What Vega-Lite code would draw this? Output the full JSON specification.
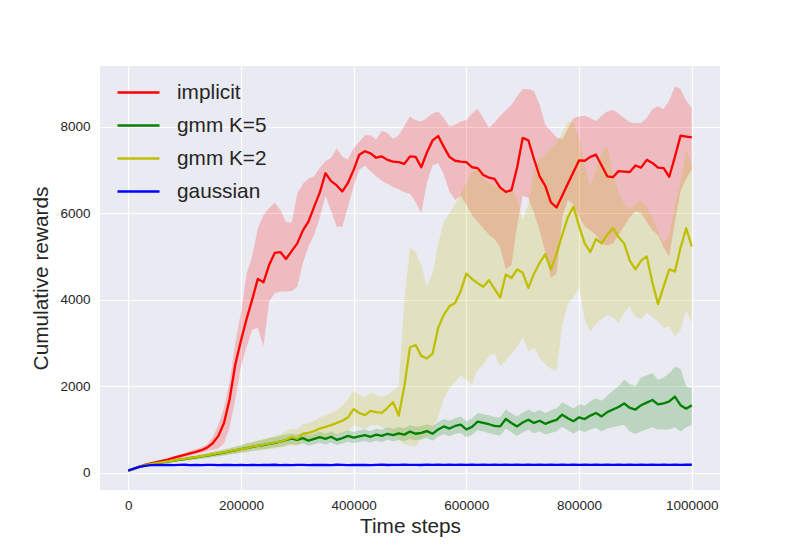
{
  "$schema": "https://vega.github.io/schema/vega-lite/v6.json",
  "width": 620,
  "height": 424,
  "autosize": {"type": "none"},
  "padding": {"left": 100, "top": 66, "right": 80, "bottom": 60},
  "background": "white",
  "config": {
    "view": {"fill": "#EAEAF2", "stroke": null},
    "axis": {
      "grid": true,
      "gridColor": "white",
      "gridWidth": 1.2,
      "domain": false,
      "ticks": false,
      "labelFont": "Liberation Sans",
      "labelFontSize": 13.5,
      "labelColor": "#262626",
      "titleFont": "Liberation Sans",
      "titleFontSize": 20.8,
      "titleFontWeight": "normal",
      "titleColor": "#262626"
    },
    "legend": {
      "orient": "none",
      "legendX": 16,
      "legendY": 4,
      "title": null,
      "symbolType": "stroke",
      "symbolSize": 1764,
      "symbolStrokeWidth": 2.5,
      "symbolOpacity": 1,
      "labelFont": "Liberation Sans",
      "labelFontSize": 20.8,
      "labelColor": "#262626",
      "labelOffset": 16
    }
  },
  "datasets": {
    "runs": [
      {"series": "implicit", "t": 0, "mean": 50, "lo": 40, "hi": 60},
      {"series": "implicit", "t": 10000, "mean": 90, "lo": 80, "hi": 100},
      {"series": "implicit", "t": 20000, "mean": 140, "lo": 130, "hi": 150},
      {"series": "implicit", "t": 30000, "mean": 180, "lo": 165, "hi": 195},
      {"series": "implicit", "t": 40000, "mean": 215, "lo": 200, "hi": 230},
      {"series": "implicit", "t": 50000, "mean": 245, "lo": 225, "hi": 265},
      {"series": "implicit", "t": 60000, "mean": 275, "lo": 250, "hi": 300},
      {"series": "implicit", "t": 70000, "mean": 305, "lo": 275, "hi": 335},
      {"series": "implicit", "t": 80000, "mean": 340, "lo": 305, "hi": 375},
      {"series": "implicit", "t": 90000, "mean": 375, "lo": 335, "hi": 415},
      {"series": "implicit", "t": 100000, "mean": 410, "lo": 365, "hi": 455},
      {"series": "implicit", "t": 110000, "mean": 445, "lo": 395, "hi": 500},
      {"series": "implicit", "t": 120000, "mean": 480, "lo": 425, "hi": 545},
      {"series": "implicit", "t": 130000, "mean": 520, "lo": 460, "hi": 590},
      {"series": "implicit", "t": 140000, "mean": 580, "lo": 500, "hi": 660},
      {"series": "implicit", "t": 150000, "mean": 680, "lo": 530, "hi": 820},
      {"series": "implicit", "t": 160000, "mean": 850, "lo": 560, "hi": 1100},
      {"series": "implicit", "t": 170000, "mean": 1150, "lo": 680, "hi": 1500},
      {"series": "implicit", "t": 180000, "mean": 1700, "lo": 1050, "hi": 2100},
      {"series": "implicit", "t": 190000, "mean": 2500, "lo": 1700, "hi": 3000},
      {"series": "implicit", "t": 200000, "mean": 3050, "lo": 2450, "hi": 3700},
      {"series": "implicit", "t": 210000, "mean": 3550, "lo": 2900, "hi": 4600},
      {"series": "implicit", "t": 220000, "mean": 4000, "lo": 3300, "hi": 5000},
      {"series": "implicit", "t": 230000, "mean": 4480, "lo": 3350, "hi": 5650},
      {"series": "implicit", "t": 240000, "mean": 4400, "lo": 2920, "hi": 5950},
      {"series": "implicit", "t": 250000, "mean": 4800, "lo": 3950, "hi": 6120},
      {"series": "implicit", "t": 260000, "mean": 5080, "lo": 4150, "hi": 6240},
      {"series": "implicit", "t": 270000, "mean": 5100, "lo": 4190, "hi": 6080},
      {"series": "implicit", "t": 280000, "mean": 4940, "lo": 4190, "hi": 5800},
      {"series": "implicit", "t": 290000, "mean": 5120, "lo": 4200, "hi": 5780},
      {"series": "implicit", "t": 300000, "mean": 5300, "lo": 4300, "hi": 6450},
      {"series": "implicit", "t": 310000, "mean": 5600, "lo": 4850, "hi": 6680},
      {"series": "implicit", "t": 320000, "mean": 5810, "lo": 5230, "hi": 6800},
      {"series": "implicit", "t": 330000, "mean": 6150, "lo": 5500, "hi": 6850},
      {"series": "implicit", "t": 340000, "mean": 6480, "lo": 5900, "hi": 7050},
      {"series": "implicit", "t": 350000, "mean": 6920, "lo": 6400, "hi": 7200},
      {"series": "implicit", "t": 360000, "mean": 6740, "lo": 6050, "hi": 7280},
      {"series": "implicit", "t": 370000, "mean": 6640, "lo": 5680, "hi": 7500},
      {"series": "implicit", "t": 380000, "mean": 6500, "lo": 5690, "hi": 7300},
      {"series": "implicit", "t": 390000, "mean": 6700, "lo": 6150, "hi": 7240},
      {"series": "implicit", "t": 400000, "mean": 7000, "lo": 6620, "hi": 7500},
      {"series": "implicit", "t": 410000, "mean": 7350, "lo": 7000, "hi": 7650},
      {"series": "implicit", "t": 420000, "mean": 7430, "lo": 7100, "hi": 7800},
      {"series": "implicit", "t": 430000, "mean": 7380, "lo": 6970, "hi": 7800},
      {"series": "implicit", "t": 440000, "mean": 7280, "lo": 6850, "hi": 7700},
      {"series": "implicit", "t": 450000, "mean": 7310, "lo": 6750, "hi": 7900},
      {"series": "implicit", "t": 460000, "mean": 7230, "lo": 6680, "hi": 7850},
      {"series": "implicit", "t": 470000, "mean": 7190, "lo": 6600, "hi": 7720},
      {"series": "implicit", "t": 480000, "mean": 7180, "lo": 6550, "hi": 7800},
      {"series": "implicit", "t": 490000, "mean": 7140, "lo": 6480, "hi": 8020},
      {"series": "implicit", "t": 500000, "mean": 7310, "lo": 6450, "hi": 8230},
      {"series": "implicit", "t": 510000, "mean": 7300, "lo": 6250, "hi": 8150},
      {"series": "implicit", "t": 520000, "mean": 7060, "lo": 6000, "hi": 8120},
      {"series": "implicit", "t": 530000, "mean": 7400, "lo": 6700, "hi": 8200},
      {"series": "implicit", "t": 540000, "mean": 7680, "lo": 7100, "hi": 8300},
      {"series": "implicit", "t": 550000, "mean": 7780, "lo": 7150, "hi": 8350},
      {"series": "implicit", "t": 560000, "mean": 7530, "lo": 6900, "hi": 8200},
      {"series": "implicit", "t": 570000, "mean": 7300, "lo": 6500, "hi": 8000},
      {"series": "implicit", "t": 580000, "mean": 7210, "lo": 6300, "hi": 8050},
      {"series": "implicit", "t": 590000, "mean": 7190, "lo": 6400, "hi": 8120},
      {"series": "implicit", "t": 600000, "mean": 7180, "lo": 6200, "hi": 8150},
      {"series": "implicit", "t": 610000, "mean": 7060, "lo": 5950, "hi": 8300},
      {"series": "implicit", "t": 620000, "mean": 7040, "lo": 5800, "hi": 8410},
      {"series": "implicit", "t": 630000, "mean": 6880, "lo": 5650, "hi": 8200},
      {"series": "implicit", "t": 640000, "mean": 6820, "lo": 5500, "hi": 7970},
      {"series": "implicit", "t": 650000, "mean": 6790, "lo": 5400, "hi": 8100},
      {"series": "implicit", "t": 660000, "mean": 6590, "lo": 5200, "hi": 8250},
      {"series": "implicit", "t": 670000, "mean": 6490, "lo": 4700, "hi": 8380},
      {"series": "implicit", "t": 680000, "mean": 6530, "lo": 4800, "hi": 8500},
      {"series": "implicit", "t": 690000, "mean": 7050, "lo": 5700, "hi": 8700},
      {"series": "implicit", "t": 700000, "mean": 7740, "lo": 6400, "hi": 8870},
      {"series": "implicit", "t": 710000, "mean": 7680, "lo": 6350, "hi": 8870},
      {"series": "implicit", "t": 720000, "mean": 7250, "lo": 6000, "hi": 8820},
      {"series": "implicit", "t": 730000, "mean": 6850, "lo": 5600, "hi": 8500},
      {"series": "implicit", "t": 740000, "mean": 6630, "lo": 5100, "hi": 8050},
      {"series": "implicit", "t": 750000, "mean": 6250, "lo": 4500, "hi": 7900},
      {"series": "implicit", "t": 760000, "mean": 6130, "lo": 4600, "hi": 7750},
      {"series": "implicit", "t": 770000, "mean": 6400, "lo": 5900, "hi": 7700},
      {"series": "implicit", "t": 780000, "mean": 6680, "lo": 6300, "hi": 7950},
      {"series": "implicit", "t": 790000, "mean": 6950, "lo": 6200, "hi": 8200},
      {"series": "implicit", "t": 800000, "mean": 7220, "lo": 5900, "hi": 8230},
      {"series": "implicit", "t": 810000, "mean": 7210, "lo": 5700, "hi": 8250},
      {"series": "implicit", "t": 820000, "mean": 7300, "lo": 5600, "hi": 8200},
      {"series": "implicit", "t": 830000, "mean": 7350, "lo": 5500, "hi": 8130},
      {"series": "implicit", "t": 840000, "mean": 7100, "lo": 5300, "hi": 8250},
      {"series": "implicit", "t": 850000, "mean": 6850, "lo": 5250, "hi": 8350},
      {"series": "implicit", "t": 860000, "mean": 6830, "lo": 5300, "hi": 8390},
      {"series": "implicit", "t": 870000, "mean": 6970, "lo": 5500, "hi": 8300},
      {"series": "implicit", "t": 880000, "mean": 6960, "lo": 5700, "hi": 8200},
      {"series": "implicit", "t": 890000, "mean": 6950, "lo": 5900, "hi": 8100},
      {"series": "implicit", "t": 900000, "mean": 7100, "lo": 6050, "hi": 8080},
      {"series": "implicit", "t": 910000, "mean": 7050, "lo": 6000, "hi": 8080},
      {"series": "implicit", "t": 920000, "mean": 7230, "lo": 5800, "hi": 8200},
      {"series": "implicit", "t": 930000, "mean": 7160, "lo": 5600, "hi": 8400},
      {"series": "implicit", "t": 940000, "mean": 7050, "lo": 5500, "hi": 8470},
      {"series": "implicit", "t": 950000, "mean": 7040, "lo": 5200, "hi": 8400},
      {"series": "implicit", "t": 960000, "mean": 6840, "lo": 5000, "hi": 8600},
      {"series": "implicit", "t": 970000, "mean": 7300, "lo": 5800, "hi": 8930},
      {"series": "implicit", "t": 980000, "mean": 7790, "lo": 6500, "hi": 8860},
      {"series": "implicit", "t": 990000, "mean": 7770, "lo": 6800, "hi": 8600},
      {"series": "implicit", "t": 1000000, "mean": 7750, "lo": 7000, "hi": 8430},

      {"series": "gmm K=5", "t": 0, "mean": 50, "lo": 45, "hi": 55},
      {"series": "gmm K=5", "t": 10000, "mean": 90, "lo": 80, "hi": 100},
      {"series": "gmm K=5", "t": 20000, "mean": 135, "lo": 120, "hi": 150},
      {"series": "gmm K=5", "t": 30000, "mean": 170, "lo": 150, "hi": 190},
      {"series": "gmm K=5", "t": 40000, "mean": 200, "lo": 180, "hi": 220},
      {"series": "gmm K=5", "t": 50000, "mean": 220, "lo": 195, "hi": 245},
      {"series": "gmm K=5", "t": 60000, "mean": 240, "lo": 212, "hi": 268},
      {"series": "gmm K=5", "t": 70000, "mean": 258, "lo": 228, "hi": 290},
      {"series": "gmm K=5", "t": 80000, "mean": 275, "lo": 240, "hi": 310},
      {"series": "gmm K=5", "t": 90000, "mean": 295, "lo": 258, "hi": 335},
      {"series": "gmm K=5", "t": 100000, "mean": 315, "lo": 275, "hi": 355},
      {"series": "gmm K=5", "t": 110000, "mean": 335, "lo": 290, "hi": 380},
      {"series": "gmm K=5", "t": 120000, "mean": 355, "lo": 305, "hi": 400},
      {"series": "gmm K=5", "t": 130000, "mean": 375, "lo": 325, "hi": 425},
      {"series": "gmm K=5", "t": 140000, "mean": 395, "lo": 340, "hi": 450},
      {"series": "gmm K=5", "t": 150000, "mean": 420, "lo": 360, "hi": 480},
      {"series": "gmm K=5", "t": 160000, "mean": 440, "lo": 375, "hi": 500},
      {"series": "gmm K=5", "t": 170000, "mean": 465, "lo": 400, "hi": 530},
      {"series": "gmm K=5", "t": 180000, "mean": 490, "lo": 420, "hi": 560},
      {"series": "gmm K=5", "t": 190000, "mean": 515, "lo": 440, "hi": 600},
      {"series": "gmm K=5", "t": 200000, "mean": 545, "lo": 460, "hi": 620},
      {"series": "gmm K=5", "t": 210000, "mean": 570, "lo": 480, "hi": 680},
      {"series": "gmm K=5", "t": 220000, "mean": 595, "lo": 510, "hi": 700},
      {"series": "gmm K=5", "t": 230000, "mean": 620, "lo": 530, "hi": 740},
      {"series": "gmm K=5", "t": 240000, "mean": 640, "lo": 540, "hi": 760},
      {"series": "gmm K=5", "t": 250000, "mean": 665, "lo": 560, "hi": 800},
      {"series": "gmm K=5", "t": 260000, "mean": 690, "lo": 590, "hi": 820},
      {"series": "gmm K=5", "t": 270000, "mean": 720, "lo": 600, "hi": 860},
      {"series": "gmm K=5", "t": 280000, "mean": 750, "lo": 640, "hi": 880},
      {"series": "gmm K=5", "t": 290000, "mean": 790, "lo": 660, "hi": 900},
      {"series": "gmm K=5", "t": 300000, "mean": 760, "lo": 640, "hi": 880},
      {"series": "gmm K=5", "t": 310000, "mean": 800, "lo": 680, "hi": 920},
      {"series": "gmm K=5", "t": 320000, "mean": 740, "lo": 620, "hi": 870},
      {"series": "gmm K=5", "t": 330000, "mean": 780, "lo": 660, "hi": 900},
      {"series": "gmm K=5", "t": 340000, "mean": 820, "lo": 690, "hi": 950},
      {"series": "gmm K=5", "t": 350000, "mean": 780, "lo": 650, "hi": 900},
      {"series": "gmm K=5", "t": 360000, "mean": 830, "lo": 700, "hi": 960},
      {"series": "gmm K=5", "t": 370000, "mean": 760, "lo": 640, "hi": 890},
      {"series": "gmm K=5", "t": 380000, "mean": 800, "lo": 670, "hi": 930},
      {"series": "gmm K=5", "t": 390000, "mean": 850, "lo": 720, "hi": 980},
      {"series": "gmm K=5", "t": 400000, "mean": 810, "lo": 680, "hi": 940},
      {"series": "gmm K=5", "t": 410000, "mean": 840, "lo": 710, "hi": 980},
      {"series": "gmm K=5", "t": 420000, "mean": 870, "lo": 730, "hi": 1000},
      {"series": "gmm K=5", "t": 430000, "mean": 830, "lo": 700, "hi": 960},
      {"series": "gmm K=5", "t": 440000, "mean": 880, "lo": 740, "hi": 1020},
      {"series": "gmm K=5", "t": 450000, "mean": 850, "lo": 710, "hi": 990},
      {"series": "gmm K=5", "t": 460000, "mean": 900, "lo": 760, "hi": 1050},
      {"series": "gmm K=5", "t": 470000, "mean": 870, "lo": 720, "hi": 1010},
      {"series": "gmm K=5", "t": 480000, "mean": 910, "lo": 760, "hi": 1060},
      {"series": "gmm K=5", "t": 490000, "mean": 880, "lo": 730, "hi": 1030},
      {"series": "gmm K=5", "t": 500000, "mean": 950, "lo": 780, "hi": 1100},
      {"series": "gmm K=5", "t": 510000, "mean": 900, "lo": 750, "hi": 1060},
      {"series": "gmm K=5", "t": 520000, "mean": 920, "lo": 770, "hi": 1080},
      {"series": "gmm K=5", "t": 530000, "mean": 960, "lo": 800, "hi": 1120},
      {"series": "gmm K=5", "t": 540000, "mean": 900, "lo": 740, "hi": 1070},
      {"series": "gmm K=5", "t": 550000, "mean": 1000, "lo": 830, "hi": 1170},
      {"series": "gmm K=5", "t": 560000, "mean": 1070, "lo": 890, "hi": 1240},
      {"series": "gmm K=5", "t": 570000, "mean": 1020, "lo": 840, "hi": 1200},
      {"series": "gmm K=5", "t": 580000, "mean": 1080, "lo": 900, "hi": 1260},
      {"series": "gmm K=5", "t": 590000, "mean": 1110, "lo": 920, "hi": 1300},
      {"series": "gmm K=5", "t": 600000, "mean": 1000, "lo": 820, "hi": 1190},
      {"series": "gmm K=5", "t": 610000, "mean": 1060, "lo": 870, "hi": 1250},
      {"series": "gmm K=5", "t": 620000, "mean": 1180, "lo": 980, "hi": 1380},
      {"series": "gmm K=5", "t": 630000, "mean": 1150, "lo": 950, "hi": 1350},
      {"series": "gmm K=5", "t": 640000, "mean": 1120, "lo": 920, "hi": 1330},
      {"series": "gmm K=5", "t": 650000, "mean": 1080, "lo": 880, "hi": 1290},
      {"series": "gmm K=5", "t": 660000, "mean": 1070, "lo": 860, "hi": 1280},
      {"series": "gmm K=5", "t": 670000, "mean": 1240, "lo": 1020, "hi": 1460},
      {"series": "gmm K=5", "t": 680000, "mean": 1150, "lo": 930, "hi": 1370},
      {"series": "gmm K=5", "t": 690000, "mean": 1070, "lo": 850, "hi": 1300},
      {"series": "gmm K=5", "t": 700000, "mean": 1160, "lo": 930, "hi": 1390},
      {"series": "gmm K=5", "t": 710000, "mean": 1225, "lo": 990, "hi": 1460},
      {"series": "gmm K=5", "t": 720000, "mean": 1150, "lo": 910, "hi": 1390},
      {"series": "gmm K=5", "t": 730000, "mean": 1200, "lo": 960, "hi": 1450},
      {"series": "gmm K=5", "t": 740000, "mean": 1130, "lo": 880, "hi": 1380},
      {"series": "gmm K=5", "t": 750000, "mean": 1180, "lo": 920, "hi": 1440},
      {"series": "gmm K=5", "t": 760000, "mean": 1220, "lo": 960, "hi": 1490},
      {"series": "gmm K=5", "t": 770000, "mean": 1340, "lo": 1060, "hi": 1620},
      {"series": "gmm K=5", "t": 780000, "mean": 1260, "lo": 980, "hi": 1560},
      {"series": "gmm K=5", "t": 790000, "mean": 1190, "lo": 900, "hi": 1480},
      {"series": "gmm K=5", "t": 800000, "mean": 1280, "lo": 980, "hi": 1580},
      {"series": "gmm K=5", "t": 810000, "mean": 1240, "lo": 940, "hi": 1550},
      {"series": "gmm K=5", "t": 820000, "mean": 1320, "lo": 1000, "hi": 1650},
      {"series": "gmm K=5", "t": 830000, "mean": 1380, "lo": 1040, "hi": 1720},
      {"series": "gmm K=5", "t": 840000, "mean": 1300, "lo": 950, "hi": 1660},
      {"series": "gmm K=5", "t": 850000, "mean": 1400, "lo": 1030, "hi": 1780},
      {"series": "gmm K=5", "t": 860000, "mean": 1460, "lo": 1050, "hi": 1900},
      {"series": "gmm K=5", "t": 870000, "mean": 1520, "lo": 1080, "hi": 2000},
      {"series": "gmm K=5", "t": 880000, "mean": 1600, "lo": 1100, "hi": 2150},
      {"series": "gmm K=5", "t": 890000, "mean": 1500, "lo": 950, "hi": 2050},
      {"series": "gmm K=5", "t": 900000, "mean": 1460, "lo": 900, "hi": 2000},
      {"series": "gmm K=5", "t": 910000, "mean": 1560, "lo": 950, "hi": 2200},
      {"series": "gmm K=5", "t": 920000, "mean": 1620, "lo": 1000, "hi": 2250},
      {"series": "gmm K=5", "t": 930000, "mean": 1680, "lo": 1050, "hi": 2300},
      {"series": "gmm K=5", "t": 940000, "mean": 1580, "lo": 1000, "hi": 2150},
      {"series": "gmm K=5", "t": 950000, "mean": 1600, "lo": 1000, "hi": 2200},
      {"series": "gmm K=5", "t": 960000, "mean": 1650, "lo": 1000, "hi": 2300},
      {"series": "gmm K=5", "t": 970000, "mean": 1760, "lo": 1050, "hi": 2450},
      {"series": "gmm K=5", "t": 980000, "mean": 1560, "lo": 950, "hi": 2400},
      {"series": "gmm K=5", "t": 990000, "mean": 1480, "lo": 1050, "hi": 2000},
      {"series": "gmm K=5", "t": 1000000, "mean": 1560, "lo": 1100, "hi": 1950},

      {"series": "gmm K=2", "t": 0, "mean": 50, "lo": 40, "hi": 60},
      {"series": "gmm K=2", "t": 10000, "mean": 90, "lo": 80, "hi": 100},
      {"series": "gmm K=2", "t": 20000, "mean": 135, "lo": 125, "hi": 145},
      {"series": "gmm K=2", "t": 30000, "mean": 170, "lo": 155, "hi": 185},
      {"series": "gmm K=2", "t": 40000, "mean": 200, "lo": 185, "hi": 215},
      {"series": "gmm K=2", "t": 50000, "mean": 220, "lo": 200, "hi": 240},
      {"series": "gmm K=2", "t": 60000, "mean": 240, "lo": 218, "hi": 262},
      {"series": "gmm K=2", "t": 70000, "mean": 260, "lo": 235, "hi": 285},
      {"series": "gmm K=2", "t": 80000, "mean": 280, "lo": 250, "hi": 310},
      {"series": "gmm K=2", "t": 90000, "mean": 300, "lo": 265, "hi": 335},
      {"series": "gmm K=2", "t": 100000, "mean": 320, "lo": 285, "hi": 355},
      {"series": "gmm K=2", "t": 110000, "mean": 340, "lo": 300, "hi": 380},
      {"series": "gmm K=2", "t": 120000, "mean": 360, "lo": 315, "hi": 405},
      {"series": "gmm K=2", "t": 130000, "mean": 380, "lo": 330, "hi": 430},
      {"series": "gmm K=2", "t": 140000, "mean": 400, "lo": 345, "hi": 455},
      {"series": "gmm K=2", "t": 150000, "mean": 425, "lo": 365, "hi": 485},
      {"series": "gmm K=2", "t": 160000, "mean": 450, "lo": 385, "hi": 515},
      {"series": "gmm K=2", "t": 170000, "mean": 470, "lo": 400, "hi": 540},
      {"series": "gmm K=2", "t": 180000, "mean": 500, "lo": 425, "hi": 575},
      {"series": "gmm K=2", "t": 190000, "mean": 520, "lo": 440, "hi": 605},
      {"series": "gmm K=2", "t": 200000, "mean": 545, "lo": 460, "hi": 640},
      {"series": "gmm K=2", "t": 210000, "mean": 570, "lo": 480, "hi": 670},
      {"series": "gmm K=2", "t": 220000, "mean": 600, "lo": 500, "hi": 710},
      {"series": "gmm K=2", "t": 230000, "mean": 620, "lo": 510, "hi": 740},
      {"series": "gmm K=2", "t": 240000, "mean": 650, "lo": 530, "hi": 780},
      {"series": "gmm K=2", "t": 250000, "mean": 670, "lo": 545, "hi": 810},
      {"series": "gmm K=2", "t": 260000, "mean": 700, "lo": 560, "hi": 850},
      {"series": "gmm K=2", "t": 270000, "mean": 720, "lo": 575, "hi": 890},
      {"series": "gmm K=2", "t": 280000, "mean": 760, "lo": 600, "hi": 950},
      {"series": "gmm K=2", "t": 290000, "mean": 820, "lo": 640, "hi": 1020},
      {"series": "gmm K=2", "t": 300000, "mean": 790, "lo": 620, "hi": 1000},
      {"series": "gmm K=2", "t": 310000, "mean": 900, "lo": 700, "hi": 1120},
      {"series": "gmm K=2", "t": 320000, "mean": 920, "lo": 720, "hi": 1150},
      {"series": "gmm K=2", "t": 330000, "mean": 960, "lo": 750, "hi": 1200},
      {"series": "gmm K=2", "t": 340000, "mean": 1020, "lo": 780, "hi": 1280},
      {"series": "gmm K=2", "t": 350000, "mean": 1060, "lo": 820, "hi": 1320},
      {"series": "gmm K=2", "t": 360000, "mean": 1100, "lo": 850, "hi": 1380},
      {"series": "gmm K=2", "t": 370000, "mean": 1150, "lo": 880, "hi": 1450},
      {"series": "gmm K=2", "t": 380000, "mean": 1200, "lo": 900, "hi": 1550},
      {"series": "gmm K=2", "t": 390000, "mean": 1280, "lo": 950, "hi": 1700},
      {"series": "gmm K=2", "t": 400000, "mean": 1470, "lo": 1100, "hi": 1900},
      {"series": "gmm K=2", "t": 410000, "mean": 1380, "lo": 1050, "hi": 1800},
      {"series": "gmm K=2", "t": 420000, "mean": 1330, "lo": 1000, "hi": 1750},
      {"series": "gmm K=2", "t": 430000, "mean": 1430, "lo": 1100, "hi": 1850},
      {"series": "gmm K=2", "t": 440000, "mean": 1400, "lo": 1100, "hi": 1800},
      {"series": "gmm K=2", "t": 450000, "mean": 1380, "lo": 1050, "hi": 1750},
      {"series": "gmm K=2", "t": 460000, "mean": 1500, "lo": 1000, "hi": 1800},
      {"series": "gmm K=2", "t": 470000, "mean": 1630, "lo": 900, "hi": 1900},
      {"series": "gmm K=2", "t": 480000, "mean": 1320, "lo": 760, "hi": 2000},
      {"series": "gmm K=2", "t": 490000, "mean": 2000, "lo": 650, "hi": 4000},
      {"series": "gmm K=2", "t": 500000, "mean": 2900, "lo": 620, "hi": 5200},
      {"series": "gmm K=2", "t": 510000, "mean": 2950, "lo": 600, "hi": 5100},
      {"series": "gmm K=2", "t": 520000, "mean": 2700, "lo": 800, "hi": 4800},
      {"series": "gmm K=2", "t": 530000, "mean": 2640, "lo": 850, "hi": 4300},
      {"series": "gmm K=2", "t": 540000, "mean": 2750, "lo": 1000, "hi": 4600},
      {"series": "gmm K=2", "t": 550000, "mean": 3350, "lo": 1300, "hi": 5300},
      {"series": "gmm K=2", "t": 560000, "mean": 3650, "lo": 1700, "hi": 5800},
      {"series": "gmm K=2", "t": 570000, "mean": 3850, "lo": 1950, "hi": 6000},
      {"series": "gmm K=2", "t": 580000, "mean": 3920, "lo": 2100, "hi": 6200},
      {"series": "gmm K=2", "t": 590000, "mean": 4200, "lo": 2250, "hi": 6450},
      {"series": "gmm K=2", "t": 600000, "mean": 4600, "lo": 2150, "hi": 6700},
      {"series": "gmm K=2", "t": 610000, "mean": 4480, "lo": 2050, "hi": 6950},
      {"series": "gmm K=2", "t": 620000, "mean": 4380, "lo": 2380, "hi": 7000},
      {"series": "gmm K=2", "t": 630000, "mean": 4300, "lo": 2500, "hi": 6800},
      {"series": "gmm K=2", "t": 640000, "mean": 4450, "lo": 2700, "hi": 6700},
      {"series": "gmm K=2", "t": 650000, "mean": 4250, "lo": 2750, "hi": 6650},
      {"series": "gmm K=2", "t": 660000, "mean": 4050, "lo": 2450, "hi": 6550},
      {"series": "gmm K=2", "t": 670000, "mean": 4580, "lo": 2600, "hi": 6470},
      {"series": "gmm K=2", "t": 680000, "mean": 4500, "lo": 2750, "hi": 6600},
      {"series": "gmm K=2", "t": 690000, "mean": 4700, "lo": 2900, "hi": 6300},
      {"series": "gmm K=2", "t": 700000, "mean": 4620, "lo": 3150, "hi": 5850},
      {"series": "gmm K=2", "t": 710000, "mean": 4270, "lo": 2800, "hi": 6200},
      {"series": "gmm K=2", "t": 720000, "mean": 4600, "lo": 2900, "hi": 7000},
      {"series": "gmm K=2", "t": 730000, "mean": 4850, "lo": 2650, "hi": 7250},
      {"series": "gmm K=2", "t": 740000, "mean": 5050, "lo": 2500, "hi": 7350},
      {"series": "gmm K=2", "t": 750000, "mean": 4700, "lo": 2400, "hi": 7500},
      {"series": "gmm K=2", "t": 760000, "mean": 5050, "lo": 2350, "hi": 7620},
      {"series": "gmm K=2", "t": 770000, "mean": 5500, "lo": 3400, "hi": 7850},
      {"series": "gmm K=2", "t": 780000, "mean": 5900, "lo": 3900, "hi": 8120},
      {"series": "gmm K=2", "t": 790000, "mean": 6150, "lo": 4050, "hi": 8100},
      {"series": "gmm K=2", "t": 800000, "mean": 5700, "lo": 4300, "hi": 7700},
      {"series": "gmm K=2", "t": 810000, "mean": 5300, "lo": 3550, "hi": 7100},
      {"series": "gmm K=2", "t": 820000, "mean": 5100, "lo": 3250, "hi": 6620},
      {"series": "gmm K=2", "t": 830000, "mean": 5400, "lo": 3450, "hi": 7000},
      {"series": "gmm K=2", "t": 840000, "mean": 5300, "lo": 3550, "hi": 7400},
      {"series": "gmm K=2", "t": 850000, "mean": 5500, "lo": 3650, "hi": 7550},
      {"series": "gmm K=2", "t": 860000, "mean": 5650, "lo": 3600, "hi": 6950},
      {"series": "gmm K=2", "t": 870000, "mean": 5450, "lo": 3460, "hi": 6500},
      {"series": "gmm K=2", "t": 880000, "mean": 5300, "lo": 3700, "hi": 6200},
      {"series": "gmm K=2", "t": 890000, "mean": 4900, "lo": 3850, "hi": 6100},
      {"series": "gmm K=2", "t": 900000, "mean": 4700, "lo": 3600, "hi": 6200},
      {"series": "gmm K=2", "t": 910000, "mean": 4900, "lo": 3550, "hi": 6300},
      {"series": "gmm K=2", "t": 920000, "mean": 5000, "lo": 3690, "hi": 6150},
      {"series": "gmm K=2", "t": 930000, "mean": 4400, "lo": 3600, "hi": 5900},
      {"series": "gmm K=2", "t": 940000, "mean": 3900, "lo": 3500, "hi": 5600},
      {"series": "gmm K=2", "t": 950000, "mean": 4300, "lo": 3350, "hi": 5300},
      {"series": "gmm K=2", "t": 960000, "mean": 4700, "lo": 3380, "hi": 5500},
      {"series": "gmm K=2", "t": 970000, "mean": 4650, "lo": 3150, "hi": 6200},
      {"series": "gmm K=2", "t": 980000, "mean": 5200, "lo": 3300, "hi": 6700},
      {"series": "gmm K=2", "t": 990000, "mean": 5650, "lo": 3750, "hi": 7500},
      {"series": "gmm K=2", "t": 1000000, "mean": 5230, "lo": 3460, "hi": 7100},

      {"series": "gaussian", "t": 0, "mean": 50, "lo": 40, "hi": 60},
      {"series": "gaussian", "t": 10000, "mean": 95, "lo": 85, "hi": 105},
      {"series": "gaussian", "t": 20000, "mean": 135, "lo": 122, "hi": 148},
      {"series": "gaussian", "t": 30000, "mean": 160, "lo": 148, "hi": 172},
      {"series": "gaussian", "t": 40000, "mean": 175, "lo": 162, "hi": 188},
      {"series": "gaussian", "t": 50000, "mean": 180, "lo": 166, "hi": 194},
      {"series": "gaussian", "t": 60000, "mean": 178, "lo": 163, "hi": 193},
      {"series": "gaussian", "t": 70000, "mean": 182, "lo": 167, "hi": 197},
      {"series": "gaussian", "t": 80000, "mean": 176, "lo": 161, "hi": 191},
      {"series": "gaussian", "t": 90000, "mean": 180, "lo": 165, "hi": 195},
      {"series": "gaussian", "t": 100000, "mean": 184, "lo": 168, "hi": 200},
      {"series": "gaussian", "t": 110000, "mean": 177, "lo": 162, "hi": 192},
      {"series": "gaussian", "t": 120000, "mean": 181, "lo": 166, "hi": 196},
      {"series": "gaussian", "t": 130000, "mean": 175, "lo": 160, "hi": 190},
      {"series": "gaussian", "t": 140000, "mean": 183, "lo": 168, "hi": 198},
      {"series": "gaussian", "t": 150000, "mean": 179, "lo": 164, "hi": 194},
      {"series": "gaussian", "t": 160000, "mean": 176, "lo": 161, "hi": 191},
      {"series": "gaussian", "t": 170000, "mean": 182, "lo": 167, "hi": 197},
      {"series": "gaussian", "t": 180000, "mean": 178, "lo": 163, "hi": 193},
      {"series": "gaussian", "t": 190000, "mean": 174, "lo": 159, "hi": 189},
      {"series": "gaussian", "t": 200000, "mean": 181, "lo": 166, "hi": 196},
      {"series": "gaussian", "t": 210000, "mean": 177, "lo": 162, "hi": 192},
      {"series": "gaussian", "t": 220000, "mean": 183, "lo": 168, "hi": 198},
      {"series": "gaussian", "t": 230000, "mean": 176, "lo": 161, "hi": 191},
      {"series": "gaussian", "t": 240000, "mean": 180, "lo": 165, "hi": 195},
      {"series": "gaussian", "t": 250000, "mean": 178, "lo": 163, "hi": 193},
      {"series": "gaussian", "t": 260000, "mean": 184, "lo": 169, "hi": 199},
      {"series": "gaussian", "t": 270000, "mean": 177, "lo": 162, "hi": 192},
      {"series": "gaussian", "t": 280000, "mean": 181, "lo": 166, "hi": 196},
      {"series": "gaussian", "t": 290000, "mean": 175, "lo": 160, "hi": 190},
      {"series": "gaussian", "t": 300000, "mean": 182, "lo": 167, "hi": 197},
      {"series": "gaussian", "t": 310000, "mean": 179, "lo": 164, "hi": 194},
      {"series": "gaussian", "t": 320000, "mean": 176, "lo": 161, "hi": 191},
      {"series": "gaussian", "t": 330000, "mean": 183, "lo": 168, "hi": 198},
      {"series": "gaussian", "t": 340000, "mean": 178, "lo": 163, "hi": 193},
      {"series": "gaussian", "t": 350000, "mean": 181, "lo": 166, "hi": 196},
      {"series": "gaussian", "t": 360000, "mean": 177, "lo": 162, "hi": 192},
      {"series": "gaussian", "t": 370000, "mean": 184, "lo": 169, "hi": 199},
      {"series": "gaussian", "t": 380000, "mean": 179, "lo": 164, "hi": 194},
      {"series": "gaussian", "t": 390000, "mean": 176, "lo": 161, "hi": 191},
      {"series": "gaussian", "t": 400000, "mean": 182, "lo": 167, "hi": 197},
      {"series": "gaussian", "t": 410000, "mean": 178, "lo": 163, "hi": 193},
      {"series": "gaussian", "t": 420000, "mean": 183, "lo": 168, "hi": 198},
      {"series": "gaussian", "t": 430000, "mean": 177, "lo": 162, "hi": 192},
      {"series": "gaussian", "t": 440000, "mean": 180, "lo": 165, "hi": 195},
      {"series": "gaussian", "t": 450000, "mean": 185, "lo": 170, "hi": 200},
      {"series": "gaussian", "t": 460000, "mean": 178, "lo": 163, "hi": 193},
      {"series": "gaussian", "t": 470000, "mean": 182, "lo": 167, "hi": 197},
      {"series": "gaussian", "t": 480000, "mean": 179, "lo": 164, "hi": 194},
      {"series": "gaussian", "t": 490000, "mean": 184, "lo": 169, "hi": 199},
      {"series": "gaussian", "t": 500000, "mean": 180, "lo": 165, "hi": 195},
      {"series": "gaussian", "t": 510000, "mean": 183, "lo": 168, "hi": 198},
      {"series": "gaussian", "t": 520000, "mean": 178, "lo": 163, "hi": 193},
      {"series": "gaussian", "t": 530000, "mean": 185, "lo": 170, "hi": 200},
      {"series": "gaussian", "t": 540000, "mean": 181, "lo": 166, "hi": 196},
      {"series": "gaussian", "t": 550000, "mean": 186, "lo": 171, "hi": 201},
      {"series": "gaussian", "t": 560000, "mean": 180, "lo": 165, "hi": 195},
      {"series": "gaussian", "t": 570000, "mean": 184, "lo": 169, "hi": 199},
      {"series": "gaussian", "t": 580000, "mean": 182, "lo": 167, "hi": 197},
      {"series": "gaussian", "t": 590000, "mean": 187, "lo": 172, "hi": 202},
      {"series": "gaussian", "t": 600000, "mean": 181, "lo": 166, "hi": 196},
      {"series": "gaussian", "t": 610000, "mean": 185, "lo": 170, "hi": 200},
      {"series": "gaussian", "t": 620000, "mean": 180, "lo": 165, "hi": 195},
      {"series": "gaussian", "t": 630000, "mean": 186, "lo": 171, "hi": 201},
      {"series": "gaussian", "t": 640000, "mean": 182, "lo": 167, "hi": 197},
      {"series": "gaussian", "t": 650000, "mean": 184, "lo": 169, "hi": 199},
      {"series": "gaussian", "t": 660000, "mean": 179, "lo": 164, "hi": 194},
      {"series": "gaussian", "t": 670000, "mean": 185, "lo": 170, "hi": 200},
      {"series": "gaussian", "t": 680000, "mean": 181, "lo": 166, "hi": 196},
      {"series": "gaussian", "t": 690000, "mean": 186, "lo": 171, "hi": 201},
      {"series": "gaussian", "t": 700000, "mean": 182, "lo": 167, "hi": 197},
      {"series": "gaussian", "t": 710000, "mean": 184, "lo": 169, "hi": 199},
      {"series": "gaussian", "t": 720000, "mean": 180, "lo": 165, "hi": 195},
      {"series": "gaussian", "t": 730000, "mean": 187, "lo": 172, "hi": 202},
      {"series": "gaussian", "t": 740000, "mean": 182, "lo": 167, "hi": 197},
      {"series": "gaussian", "t": 750000, "mean": 185, "lo": 170, "hi": 200},
      {"series": "gaussian", "t": 760000, "mean": 181, "lo": 166, "hi": 196},
      {"series": "gaussian", "t": 770000, "mean": 186, "lo": 171, "hi": 201},
      {"series": "gaussian", "t": 780000, "mean": 183, "lo": 168, "hi": 198},
      {"series": "gaussian", "t": 790000, "mean": 185, "lo": 170, "hi": 200},
      {"series": "gaussian", "t": 800000, "mean": 180, "lo": 165, "hi": 195},
      {"series": "gaussian", "t": 810000, "mean": 186, "lo": 171, "hi": 201},
      {"series": "gaussian", "t": 820000, "mean": 182, "lo": 167, "hi": 197},
      {"series": "gaussian", "t": 830000, "mean": 184, "lo": 169, "hi": 199},
      {"series": "gaussian", "t": 840000, "mean": 181, "lo": 166, "hi": 196},
      {"series": "gaussian", "t": 850000, "mean": 187, "lo": 172, "hi": 202},
      {"series": "gaussian", "t": 860000, "mean": 183, "lo": 168, "hi": 198},
      {"series": "gaussian", "t": 870000, "mean": 185, "lo": 170, "hi": 200},
      {"series": "gaussian", "t": 880000, "mean": 180, "lo": 165, "hi": 195},
      {"series": "gaussian", "t": 890000, "mean": 186, "lo": 171, "hi": 201},
      {"series": "gaussian", "t": 900000, "mean": 182, "lo": 167, "hi": 197},
      {"series": "gaussian", "t": 910000, "mean": 185, "lo": 170, "hi": 200},
      {"series": "gaussian", "t": 920000, "mean": 181, "lo": 166, "hi": 196},
      {"series": "gaussian", "t": 930000, "mean": 187, "lo": 172, "hi": 202},
      {"series": "gaussian", "t": 940000, "mean": 183, "lo": 168, "hi": 198},
      {"series": "gaussian", "t": 950000, "mean": 185, "lo": 170, "hi": 200},
      {"series": "gaussian", "t": 960000, "mean": 182, "lo": 167, "hi": 197},
      {"series": "gaussian", "t": 970000, "mean": 186, "lo": 171, "hi": 201},
      {"series": "gaussian", "t": 980000, "mean": 183, "lo": 168, "hi": 198},
      {"series": "gaussian", "t": 990000, "mean": 185, "lo": 170, "hi": 200},
      {"series": "gaussian", "t": 1000000, "mean": 184, "lo": 169, "hi": 199}
    ]
  },
  "data": {"name": "runs"},
  "encoding": {
    "x": {
      "field": "t",
      "type": "quantitative",
      "scale": {"domain": [-50000, 1050000], "nice": false, "zero": false},
      "axis": {
        "values": [0, 200000, 400000, 600000, 800000, 1000000],
        "format": "d",
        "title": "Time steps",
        "labelPadding": 8,
        "titlePadding": 5
      }
    },
    "color": {
      "field": "series",
      "type": "nominal",
      "scale": {
        "domain": ["implicit", "gmm K=5", "gmm K=2", "gaussian"],
        "range": ["#ff0000", "#008000", "#bfbf00", "#0000ff"]
      },
      "legend": {"rowPadding": -22}
    }
  },
  "layer": [
    {
      "mark": {"type": "area", "opacity": 0.2},
      "encoding": {
        "y": {
          "field": "lo",
          "type": "quantitative",
          "scale": {"domain": [-400, 9400], "nice": false, "zero": false},
          "axis": {
            "values": [0, 2000, 4000, 6000, 8000],
            "format": "d",
            "title": "Cumulative rewards",
            "labelPadding": 10,
            "titlePadding": 8
          }
        },
        "y2": {"field": "hi"}
      }
    },
    {
      "mark": {"type": "line", "strokeWidth": 2.3, "strokeJoin": "round"},
      "encoding": {
        "y": {"field": "mean", "type": "quantitative", "title": "Cumulative rewards"}
      }
    }
  ]
}
